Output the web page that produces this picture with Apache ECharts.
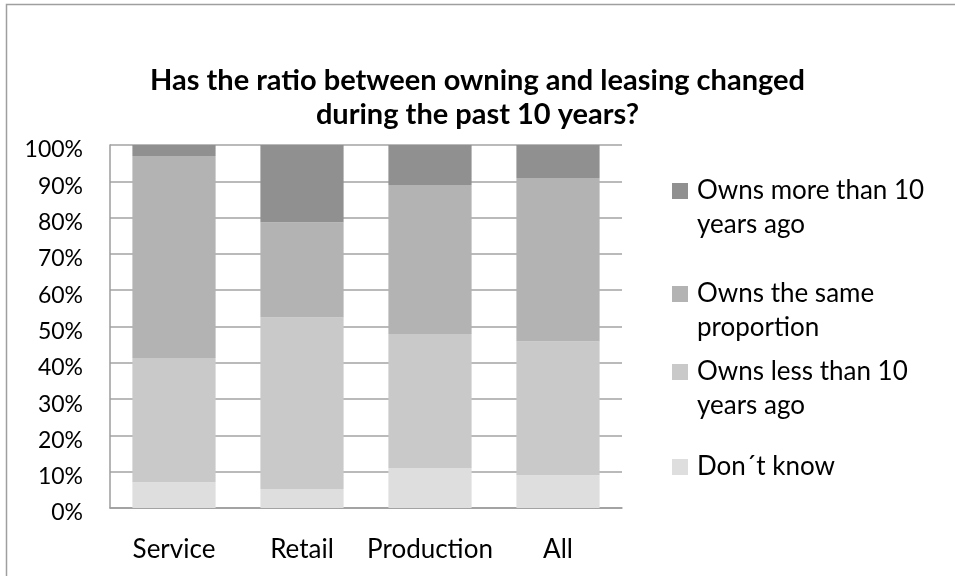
<!DOCTYPE html>
<html>
<head>
<meta charset="utf-8">
<script src="https://cdn.jsdelivr.net/npm/echarts@6/dist/echarts.min.js"></script>
<style>
  html, body { margin: 0; padding: 0; background: #fff; }
  #chart { width: 955px; height: 576px; }
</style>
</head>
<body>
<div id="chart"></div>
<script>
// Survey: change in owning vs leasing share, by sector (percent of respondents)
const categories = ['Service', 'Retail', 'Production', 'All'];
const dontKnow   = [7.1, 5.2, 11.0, 9.0];
const ownsLess   = [34.2, 47.3, 36.9, 36.9];
const ownsSame   = [55.7, 26.2, 41.1, 45.0];
const ownsMore   = [3.0, 21.3, 11.0, 9.1];

const seriesNames = ['Don\u00b4t know', 'Owns less than 10\nyears ago', 'Owns the same\nproportion', 'Owns more than 10\nyears ago'];
const seriesColors = ['#dedede', '#c9c9c9', '#b3b3b3', '#909090'];
const seriesValues = [dontKnow, ownsLess, ownsSame, ownsMore];

const FONT = 'Lato';

const chart = echarts.init(document.getElementById('chart'));

// one legend block per entry so each can sit at its own height;
// wrapped names get a leading blank line so the swatch lines up with the first line
const legendTops = [140, 243, 321, 450];
const legendOrder = [3, 2, 1, 0];
const legends = legendOrder.map(function (si, k) {
  return {
    orient: 'vertical',
    left: 672,
    top: legendTops[k],
    padding: 0,
    itemWidth: 16,
    itemHeight: 16,
    itemGap: 4,
    icon: 'rect',
    selectedMode: false,
    data: [seriesNames[si]],
    formatter: function (name) {
      return name.indexOf('\n') >= 0 ? '\n' + name : name;
    },
    textStyle: {
      fontFamily: FONT,
      fontSize: 26,
      lineHeight: 34,
      color: '#000',
      padding: [0, 0, 0, 4]
    }
  };
});

chart.setOption({
  animation: false,
  backgroundColor: '#fff',
  title: {
    text: 'Has the ratio between owning and leasing changed\nduring the past 10 years?',
    left: 'center',
    top: 64,
    padding: 0,
    textStyle: {
      fontFamily: FONT,
      fontWeight: 'bold',
      fontSize: 29,
      lineHeight: 34,
      color: '#000'
    }
  },
  legend: legends,
  grid: { left: 110, right: 333, top: 145, bottom: 68 },
  xAxis: {
    type: 'category',
    data: categories,
    axisLine: { lineStyle: { color: '#9c9c9c', width: 1.5 } },
    axisTick: { show: false },
    axisLabel: { fontFamily: FONT, fontSize: 26, color: '#000', margin: 29, interval: 0 }
  },
  yAxis: {
    type: 'value',
    min: 0,
    max: 100,
    interval: 10,
    axisLine: { show: true, lineStyle: { color: '#9c9c9c', width: 1.5 } },
    axisTick: { show: false },
    splitLine: { lineStyle: { color: '#a3a3a3', width: 1.5 } },
    axisLabel: {
      fontFamily: FONT, fontSize: 23, color: '#000', margin: 27,
      lineHeight: 10,
      // blank first line nudges each label a few pixels below its gridline
      formatter: function (v) { return '\n' + v + '%'; }
    }
  },
  graphic: [{
    type: 'rect',
    shape: { x: 6.5, y: 4.5, width: 1000, height: 1000 },
    style: { fill: 'none', stroke: '#9f9f9f', lineWidth: 1.5 },
    silent: true,
    z: -1
  }],
  series: seriesValues.map(function (vals, i) {
    return {
      name: seriesNames[i],
      type: 'bar',
      stack: 'total',
      barCategoryGap: '35%',
      itemStyle: { color: seriesColors[i] },
      data: vals
    };
  })
});
</script>
</body>
</html>
